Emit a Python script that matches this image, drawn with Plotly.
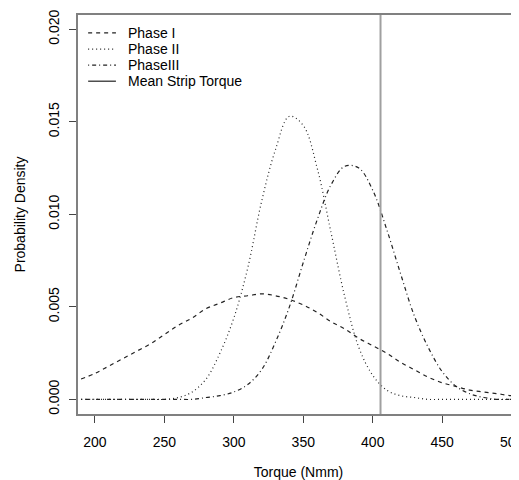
import plotly.graph_objects as go

# torque grid (Nmm) and densities
torque = [190, 200, 210, 220, 230, 240, 250, 260, 270, 280, 290, 300, 310, 320,
          330, 340, 350, 360, 370, 380, 390, 400, 410, 420, 430, 440, 450, 460,
          470, 480, 490, 500, 510]

phase1 = [0.0011, 0.0014, 0.0018, 0.0022, 0.0026, 0.0030, 0.0035, 0.0040, 0.0044,
          0.0049, 0.0052, 0.0055, 0.0056, 0.0057, 0.0056, 0.0054, 0.0051, 0.0047,
          0.0042, 0.0038, 0.0033, 0.0029, 0.0025, 0.0020, 0.0016, 0.0012, 0.0009,
          0.0007, 0.0005, 0.0004, 0.0003, 0.0002, 0.0002]

phase2 = [0.0, 0.0, 0.0, 0.0, 0.0, 0.0, 0.0, 0.0001, 0.0004, 0.0011, 0.0025, 0.0044,
          0.0071, 0.0107, 0.0135, 0.0153, 0.0148, 0.0125, 0.0090, 0.0055, 0.0028,
          0.0013, 0.0005, 0.0002, 0.0001, 0.0, 0.0, 0.0, 0.0, 0.0, 0.0, 0.0, 0.0]

phase3 = [0.0, 0.0, 0.0, 0.0, 0.0, 0.0, 0.0, 0.0, 0.0, 0.0001, 0.0002, 0.0004,
          0.0008, 0.0016, 0.0031, 0.0050, 0.0074, 0.0097, 0.0116, 0.0126, 0.0125,
          0.0113, 0.0092, 0.0068, 0.0045, 0.0028, 0.0015, 0.0007, 0.0003, 0.0001,
          0.0, 0.0, 0.0]

mean_torque = 405.6
y_range = [-0.00079, 0.02077]
x_range = [187.8, 505.3]

legend_names = ["Phase I", "Phase II", "PhaseIII", "Mean Strip Torque"]
dashes = ["4px,4px", "1px,3px", "1px,3px,4px,3px", "solid"]

font = dict(family="Liberation Sans, Arial, sans-serif", size=14, color="#000000")
ink = "#222222"

fig = go.Figure()
for name, vals, dash in zip(legend_names[:3], [phase1, phase2, phase3], dashes[:3]):
    fig.add_trace(go.Scatter(x=torque, y=vals, mode="lines", name=name, line_shape="spline",
                             line=dict(color=ink, width=1.2, dash=dash)))
fig.add_trace(go.Scatter(x=[mean_torque, mean_torque], y=y_range, mode="lines",
                         name=legend_names[3], line=dict(color="#a0a0a0", width=2)))

# legend drawn by hand (R-style, tight rows, no frame)
for i, (name, dash) in enumerate(zip(legend_names, dashes)):
    yy = 0.955 - i * 0.0403
    fig.add_shape(type="line", xref="paper", yref="paper", x0=0.023, x1=0.086, y0=yy, y1=yy,
                  line=dict(color=ink, width=1.2, dash=dash))
    fig.add_annotation(x=0.109, y=yy, xref="paper", yref="paper", text=name, showarrow=False,
                       xanchor="left", yanchor="middle", font=font)

# page body has an 8px margin, so the figure is sized to the visible area
fig.update_layout(
    width=511, height=472,
    margin=dict(l=70, r=0, t=7, b=66),
    paper_bgcolor="white", plot_bgcolor="white",
    font=font,
    showlegend=False,
)
fig.update_xaxes(range=x_range, tickvals=[200, 250, 300, 350, 400, 450, 500],
                 showgrid=False, zeroline=False, showline=True, mirror=True, automargin=False,
                 linecolor="#808080", linewidth=1.5, ticks="outside", ticklen=7,
                 tickcolor="#444444", ticklabelstandoff=7, tickfont=dict(size=14),
                 ticklabeloverflow="allow",
                 title=dict(text="Torque (Nmm)", standoff=19, font=dict(size=14)))
fig.update_yaxes(range=y_range, tickvals=[0.0, 0.005, 0.010, 0.015, 0.020],
                 ticktext=["0.000", "0.005", "0.010", "0.015", "0.020"],
                 tickangle=-90, showgrid=False, zeroline=False, showline=True, automargin=False,
                 linecolor="#808080", linewidth=1.5, ticks="outside", ticklen=7,
                 tickcolor="#444444", ticklabelstandoff=5, tickfont=dict(size=14),
                 title=dict(text="Probability Density", standoff=17, font=dict(size=14)))

fig.write_html("out.html")
